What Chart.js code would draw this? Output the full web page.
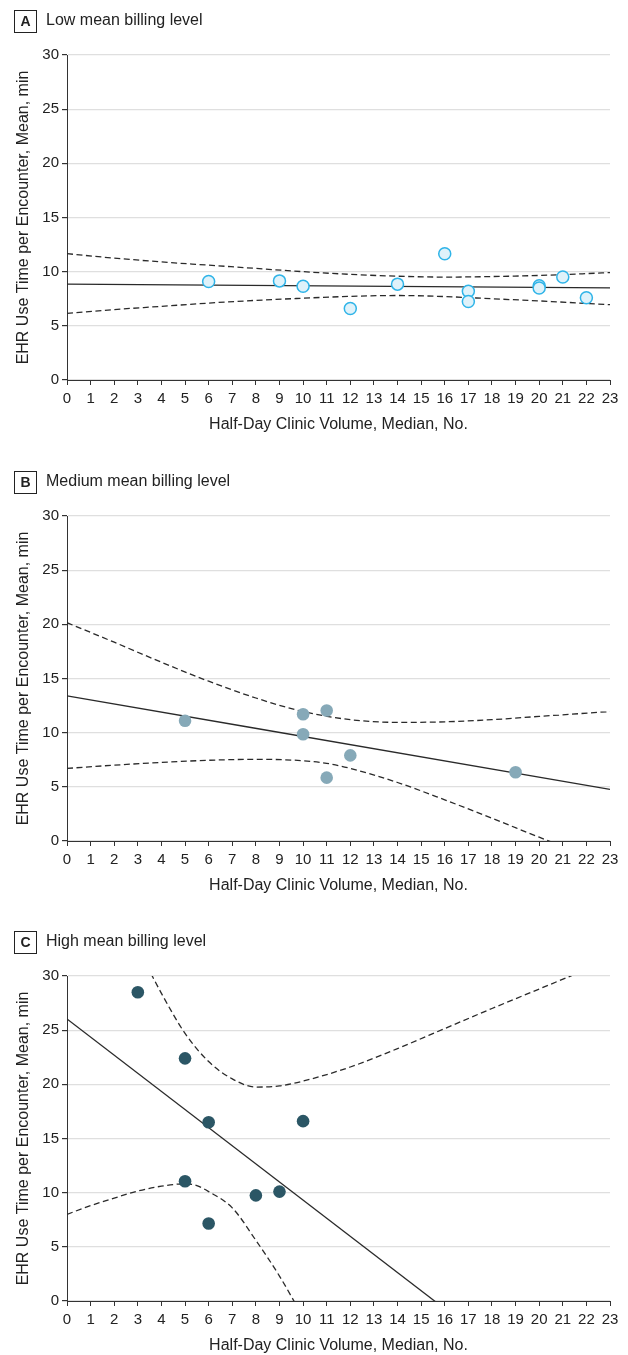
<!DOCTYPE html>
<html><head><meta charset="utf-8">
<script src="https://cdn.jsdelivr.net/npm/chart.js@4"></script>
<style>
body{margin:0;background:#fff;width:628px;height:1355px;overflow:hidden;font-family:'Liberation Sans',sans-serif;color:#222;}
.panel{position:absolute;left:0;width:628px;height:434px;}
.lbl{position:absolute;left:14px;top:10px;width:21px;height:21px;border:1px solid #222;font-weight:bold;font-size:14px;line-height:21px;text-align:center;}
.ttl{position:absolute;left:46px;top:9px;font-size:16px;line-height:22px;}
canvas{position:absolute;left:0;top:0;}
</style></head><body>
<div class="panel" style="top:0"><canvas id="cA" width="628" height="434"></canvas><div class="lbl">A</div><div class="ttl">Low mean billing level</div></div>
<div class="panel" style="top:461px"><canvas id="cB" width="628" height="434"></canvas><div class="lbl">B</div><div class="ttl">Medium mean billing level</div></div>
<div class="panel" style="top:921px"><canvas id="cC" width="628" height="434"></canvas><div class="lbl">C</div><div class="ttl">High mean billing level</div></div>
<script>
// Axis settings
const xMin = 0, xMax = 23, xStep = 1;
const yMin = 0, yMax = 30, yStep = 5;
const xTitle = 'Half-Day Clinic Volume, Median, No.';
const yTitle = 'EHR Use Time per Encounter, Mean, min';

// Panel A: low mean billing level
const lowX = [6, 9, 10, 12, 14, 16, 17, 17, 20, 20, 21, 22];
const lowY = [9.1, 9.15, 8.65, 6.6, 8.85, 11.65, 8.2, 7.25, 8.7, 8.5, 9.5, 7.6];
const lowFitX = [0, 23];
const lowFitY = [8.85, 8.5];
const lowCiX = [0, 2, 4, 6, 8, 10, 12, 14, 16, 18, 20, 22, 23];
const lowUpper = [11.66, 11.25, 10.9, 10.6, 10.3, 10.0, 9.75, 9.58, 9.5, 9.55, 9.65, 9.82, 9.92];
const lowLower = [6.15, 6.5, 6.8, 7.1, 7.35, 7.55, 7.72, 7.8, 7.7, 7.5, 7.3, 7.07, 6.95];

// Panel B: medium mean billing level
const medX = [5, 10, 10, 11, 11, 12, 19];
const medY = [11.1, 11.7, 9.85, 12.05, 5.85, 7.9, 6.35];
const medFitX = [0, 23];
const medFitY = [13.4, 4.77];
const medUpperX = [0, 2, 4, 6, 8, 10, 12, 14, 16, 18, 20, 23];
const medUpper = [20.15, 18.35, 16.5, 14.75, 13.2, 11.95, 11.2, 10.95, 11.0, 11.2, 11.5, 11.95];
const medLowerX = [0, 2, 4, 6, 8, 10, 11, 12, 14, 16, 18, 20, 21];
const medLower = [6.7, 7.0, 7.25, 7.45, 7.54, 7.41, 7.17, 6.7, 5.4, 3.8, 2.1, 0.35, -0.5];

// Panel C: high mean billing level
const highX = [3, 5, 5, 6, 6, 8, 9, 10];
const highY = [28.5, 22.4, 11.05, 16.5, 7.15, 9.75, 10.1, 16.6];
const highFitX = [0, 16];
const highFitY = [26.03, -0.72];
const highUpperX = [3, 4, 5, 6, 7, 8, 9, 10, 12, 14, 16, 18, 20, 22];
const highUpper = [32.6, 28.4, 24.7, 22.1, 20.5, 19.75, 19.85, 20.3, 21.6, 23.3, 25.15, 27.0, 28.8, 30.6];
const highLowerX = [0, 1, 2, 3, 4, 5, 5.5, 6, 7, 8, 9, 10];
const highLower = [8.0, 8.8, 9.5, 10.15, 10.6, 10.82, 10.65, 10.1, 8.6, 5.6, 2.3, -1.5];

const pair = (xs, ys) => xs.map((x, i) => ({x: x, y: ys[i]}));
const FONT = "'Liberation Sans', sans-serif";
const INK = '#222';

function lineDs(xs, ys, dashed) {
  return {
    data: pair(xs, ys), showLine: true, pointRadius: 0, pointHoverRadius: 0,
    borderColor: '#2a2a2a', borderWidth: 1.3,
    borderDash: dashed ? [6, 3.5] : [], cubicInterpolationMode: 'monotone', fill: false
  };
}

function makeChart(id, px, py, style, fx, fy, ux, uy, lx, ly) {
  const pts = Object.assign({data: pair(px, py), showLine: false, pointHoverRadius: 6}, style);
  new Chart(document.getElementById(id), {
    type: 'scatter',
    data: {datasets: [pts, lineDs(fx, fy, false), lineDs(ux, uy, true), lineDs(lx, ly, true)]},
    options: {
      responsive: false, animation: false, events: [],
      layout: {padding: {top: 55, right: 18, left: 0, bottom: 0}, autoPadding: false},
      plugins: {legend: {display: false}, tooltip: {enabled: false}},
      scales: {
        x: {
          type: 'linear', min: xMin, max: xMax,
          ticks: {stepSize: xStep, color: INK, font: {family: FONT, size: 15}, padding: 5, maxRotation: 0, autoSkip: false},
          grid: {drawOnChartArea: false, drawTicks: true, tickLength: 5, tickColor: '#333'},
          border: {color: '#333', width: 1},
          title: {display: true, text: xTitle, color: INK, font: {family: FONT, size: 16}, padding: {top: 0, bottom: 0}},
          afterFit: s => { s.height = 54; }
        },
        y: {
          type: 'linear', min: yMin, max: yMax,
          ticks: {stepSize: yStep, color: INK, font: {family: FONT, size: 15}, padding: 3},
          grid: {color: '#dfdfdf', lineWidth: 1.2, drawTicks: true, tickLength: 5, tickColor: '#333'},
          border: {color: '#333', width: 1},
          title: {display: true, text: yTitle, color: INK, font: {family: FONT, size: 16}, padding: {top: 14, bottom: 0}},
          afterFit: s => { s.width = 67; }
        }
      }
    }
  });
}

makeChart('cA', lowX, lowY,
  {pointRadius: 6, pointBackgroundColor: '#dff2fa', pointBorderColor: '#2fb4e8', pointBorderWidth: 1.5},
  lowFitX, lowFitY, lowCiX, lowUpper, lowCiX, lowLower);
makeChart('cB', medX, medY,
  {pointRadius: 6.3, pointBackgroundColor: '#86a9b8', pointBorderColor: '#86a9b8', pointBorderWidth: 0},
  medFitX, medFitY, medUpperX, medUpper, medLowerX, medLower);
makeChart('cC', highX, highY,
  {pointRadius: 6.3, pointBackgroundColor: '#2b5665', pointBorderColor: '#2b5665', pointBorderWidth: 0},
  highFitX, highFitY, highUpperX, highUpper, highLowerX, highLower);
</script>
</body></html>
